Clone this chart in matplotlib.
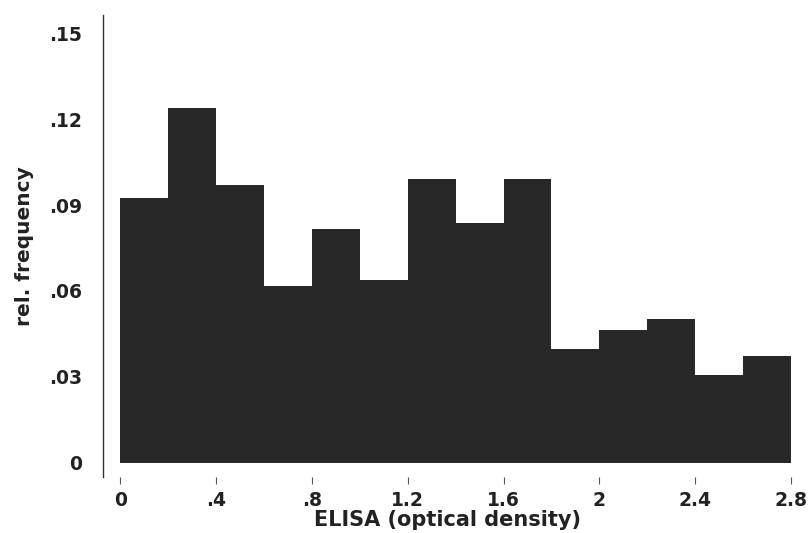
import matplotlib
matplotlib.use("Agg")
import matplotlib.pyplot as plt
import numpy as np

bin_edges = [0.0, 0.2, 0.4, 0.6, 0.8, 1.0, 1.2, 1.4, 1.6, 1.8, 2.0, 2.2, 2.4, 2.6, 2.8]
rel_freq = [0.0924, 0.1239, 0.0970, 0.0618, 0.0817, 0.0639, 0.0991,
            0.0838, 0.0991, 0.0398, 0.0464, 0.0503, 0.0307, 0.0373]
x_ticks = [0, 0.4, 0.8, 1.2, 1.6, 2.0, 2.4, 2.8]
x_ticklabels = ["0", ".4", ".8", "1.2", "1.6", "2", "2.4", "2.8"]
y_ticks = [0, 0.03, 0.06, 0.09, 0.12, 0.15]
y_ticklabels = ["0", ".03", ".06", ".09", ".12", ".15"]

plt.rcParams['font.family'] = ['DejaVu Sans']

fig = plt.figure(figsize=(8.08, 5.33), dpi=100)
ax = fig.add_axes([103/808, 56/533, (791-103)/808, (518-56)/533])

lefts = np.array(bin_edges[:-1])
widths = np.diff(bin_edges)
ax.bar(lefts, rel_freq, width=widths, align='edge', color='#282828',
       edgecolor='#282828', linewidth=0)

ax.set_xlim(-0.072, 2.8)
ax.set_ylim(-0.0049, 0.1563)

for s in ['top', 'right', 'bottom']:
    ax.spines[s].set_visible(False)
ax.spines['left'].set_color('#333333')
ax.spines['left'].set_linewidth(1.0)

tick_font = dict(fontsize=13.5, fontweight='bold', color='#222222')
ax.set_xticks(x_ticks)
ax.set_xticklabels(x_ticklabels, **tick_font)
ax.set_yticks(y_ticks)
ax.set_yticklabels(y_ticklabels, **tick_font)
ax.tick_params(axis='x', direction='out', length=5, width=0.8, color='#555555', pad=5)
ax.tick_params(axis='y', length=0, pad=15)

ax.set_xlabel("ELISA (optical density)", fontsize=15, fontweight='bold', color='#222222', labelpad=0)
ax.set_ylabel("rel. frequency", fontsize=14.5, fontweight='bold', color='#222222', labelpad=11)

fig.savefig("out.png", dpi=100, facecolor='white')
